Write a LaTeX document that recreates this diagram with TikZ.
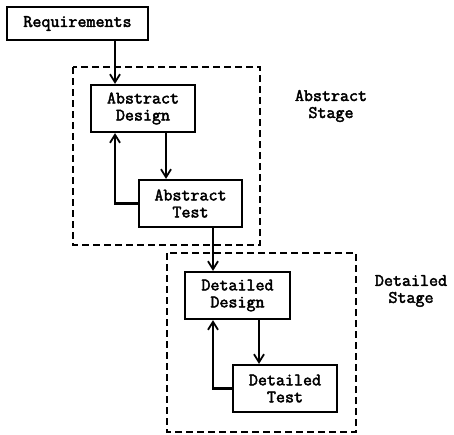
\documentclass[tikz,border=0pt]{standalone}
\usepackage{fontspec}
\setmonofont{Latin Modern Mono}[BoldFont={Latin Modern Mono}, BoldFeatures={FakeBold=2.5}]
\usetikzlibrary{arrows.meta}
\tikzset{
  lbl/.style={font=\ttfamily\bfseries\fontsize{17.5}{17}\selectfont, align=center},
  procbox/.style={lbl, draw, line width=2.2pt, rectangle, inner sep=0pt},
  stagebox/.style={draw, line width=2.2pt, dash pattern=on 7pt off 4pt},
  arr/.style={line width=2.2pt, -{Straight Barb[length=8pt,width=10pt,line width=1.8pt]}},
}
\begin{document}
\begin{tikzpicture}[x=1pt,y=-1pt]
\useasboundingbox (0,0) rectangle (454,434);
\fill[white] (0,0) rectangle (454,434);
% stage boxes
\draw[stagebox] (73,67) rectangle (260,245);
\draw[stagebox] (167,253) rectangle (356,432);
% nodes
\node[procbox, minimum width=141pt, minimum height=33pt] (req) at (77.5,23.5) {Requirements};
\node[procbox, minimum width=104pt, minimum height=47pt] (ad) at (143,108.5) {Abstract\\Design};
\node[procbox, minimum width=103pt, minimum height=47pt] (at) at (190.5,203.5) {Abstract\\Test};
\node[procbox, minimum width=105pt, minimum height=47pt] (dd) at (237.5,295.5) {Detailed\\Design};
\node[procbox, minimum width=104pt, minimum height=47pt] (dt) at (285,388.5) {Detailed\\Test};
\node[lbl] (as) at (331,106) {Abstract\\Stage};
\node[lbl] (ds) at (411,291) {Detailed\\Stage};
% guide coordinates
\coordinate (xa) at (115,0);
\coordinate (xb) at (166,0);
\coordinate (xc) at (213,0);
\coordinate (xd) at (259,0);
% connectors
\draw[arr] (req.south -| xa) -- (ad.north -| xa);
\draw[arr] (ad.south -| xb) -- (at.north -| xb);
\draw[arr] (at.west) -| (ad.south -| xa);
\draw[arr] (at.south -| xc) -- (dd.north -| xc);
\draw[arr] (dd.south -| xd) -- (dt.north -| xd);
\draw[arr] (dt.west) -| (dd.south -| xc);
\end{tikzpicture}
\end{document}
